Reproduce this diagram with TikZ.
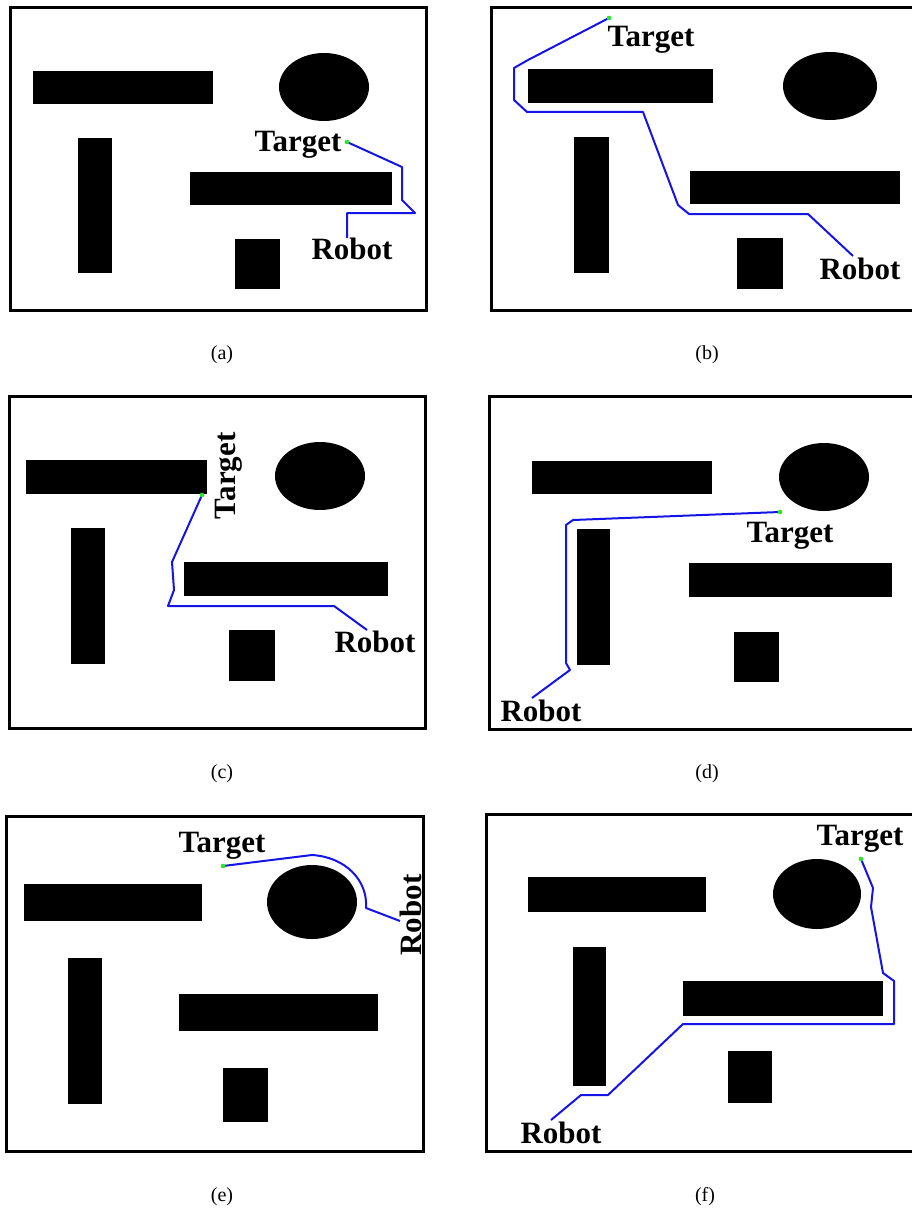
\documentclass[tikz,border=0pt]{standalone}
\usepackage{fontspec}
\setmainfont{Liberation Serif}
\definecolor{pathblue}{RGB}{20,20,230}
\definecolor{dotgreen}{RGB}{40,230,40}
\begin{document}
\begin{tikzpicture}[x=1pt,y=-1pt,
  frame/.style={line width=3pt},
  obst/.style={fill=black},
  route/.style={pathblue,line width=2pt,line join=round},
  lbl/.style={font=\bfseries\fontsize{31}{31}\selectfont,inner sep=0pt,anchor=base},
  sublbl/.style={font=\fontsize{20}{20}\selectfont,inner sep=0pt}]
\useasboundingbox (0,0) rectangle (911,1209);
% (a)
\draw[frame] (10.5,7.3) rectangle (426.5,310.5);
\fill[obst] (33,71) rectangle (213,104);
\fill[obst] (324,87) ellipse [x radius=45pt,y radius=34pt];
\fill[obst] (78,138) rectangle (112,273);
\fill[obst] (190,172) rectangle (392,205);
\fill[obst] (235,239) rectangle (280,289);
\node[lbl] (tgtA) at (298,152) {Target};
\node[lbl] (botA) at (352,259) {Robot};
\coordinate (tA) at (347,142);
\coordinate (rA) at (347,238);
\draw[route] (tA) -- (402,167) -- (402,200) -- (415,213) -- (347,213) -- (rA);
\fill[dotgreen] (tA) circle (2.3pt);
\node[sublbl] (capA) at (222,355) {(a)};
% (b)
\draw[frame] (491,7.3) rectangle (915,310.5);
\fill[obst] (528,69) rectangle (713,103);
\fill[obst] (830,86) ellipse [x radius=47pt,y radius=34pt];
\fill[obst] (574,137) rectangle (609,273);
\fill[obst] (690,171) rectangle (900,204);
\fill[obst] (737,238) rectangle (783,289);
\node[lbl] (tgtB) at (651,47) {Target};
\node[lbl] (botB) at (860,279) {Robot};
\coordinate (tB) at (609,18);
\coordinate (rB) at (853,256);
\draw[route] (tB) -- (528,60) -- (514,68) -- (514,100) -- (527,112) -- (643,112)
  -- (678,205) -- (689,214) -- (808,214) -- (rB);
\fill[dotgreen] (tB) circle (2.3pt);
\node[sublbl] (capB) at (707,355) {(b)};
% (c)
\draw[frame] (9,396) rectangle (425.5,728.3);
\fill[obst] (26,460) rectangle (207,494);
\fill[obst] (320,476) ellipse [x radius=45pt,y radius=34pt];
\fill[obst] (71,528) rectangle (105,664);
\fill[obst] (184,562) rectangle (388,596);
\fill[obst] (229,630) rectangle (275,681);
\node[lbl,rotate=90] (tgtC) at (235,476) {Target};
\node[lbl] (botC) at (375,652) {Robot};
\coordinate (tC) at (202,495);
\coordinate (rC) at (367,630);
\draw[route] (tC) -- (172,562) -- (174,590) -- (168,606) -- (334,606) -- (rC);
\fill[dotgreen] (tC) circle (2.3pt);
\node[sublbl] (capC) at (222,774) {(c)};
% (d)
\draw[frame] (489.3,396) rectangle (915,729);
\fill[obst] (532,461) rectangle (712,494);
\fill[obst] (824,477) ellipse [x radius=45pt,y radius=34pt];
\fill[obst] (577,529) rectangle (610,665);
\fill[obst] (689,563) rectangle (892,597);
\fill[obst] (734,632) rectangle (779,682);
\node[lbl] (tgtD) at (790,542) {Target};
\node[lbl] (botD) at (541,721) {Robot};
\coordinate (tD) at (780,512);
\coordinate (rD) at (532,698);
\draw[route] (tD) -- (573,520) -- (566,525) -- (566,663) -- (570,670) -- (rD);
\fill[dotgreen] (tD) circle (2.3pt);
\node[sublbl] (capD) at (707,774) {(d)};
% (e)
\draw[frame] (6.7,816.7) rectangle (423.3,1151.7);
\fill[obst] (24,884) rectangle (202,921);
\fill[obst] (312,902) ellipse [x radius=45pt,y radius=37pt];
\fill[obst] (68,958) rectangle (102,1104);
\fill[obst] (179,994) rectangle (378,1031);
\fill[obst] (223,1068) rectangle (268,1122);
\node[lbl] (tgtE) at (222,852) {Target};
\node[lbl,rotate=90] (botE) at (421,915) {Robot};
\coordinate (tE) at (223,866);
\coordinate (rE) at (400,921);
\draw[route] (tE) -- (312,855) .. controls (345,857) and (368,880) .. (366,908) -- (rE);
\fill[dotgreen] (tE) circle (2.3pt);
\node[sublbl] (capE) at (222,1197) {(e)};
% (f)
\draw[frame] (486.7,814.3) rectangle (915,1151.7);
\fill[obst] (528,877) rectangle (706,912);
\fill[obst] (817,894) ellipse [x radius=44pt,y radius=35pt];
\fill[obst] (573,947) rectangle (606,1086);
\fill[obst] (683,981) rectangle (883,1016);
\fill[obst] (728,1051) rectangle (772,1103);
\node[lbl] (tgtF) at (860,845) {Target};
\node[lbl] (botF) at (561,1143) {Robot};
\coordinate (tF) at (861,859);
\coordinate (rF) at (551,1120);
\draw[route] (tF) -- (873,888) -- (871,907) -- (883,973) -- (894,981) -- (894,1024)
  -- (683,1024) -- (608,1095) -- (581,1095) -- (rF);
\fill[dotgreen] (tF) circle (2.3pt);
\node[sublbl] (capF) at (705,1197) {(f)};
\end{tikzpicture}
\end{document}
